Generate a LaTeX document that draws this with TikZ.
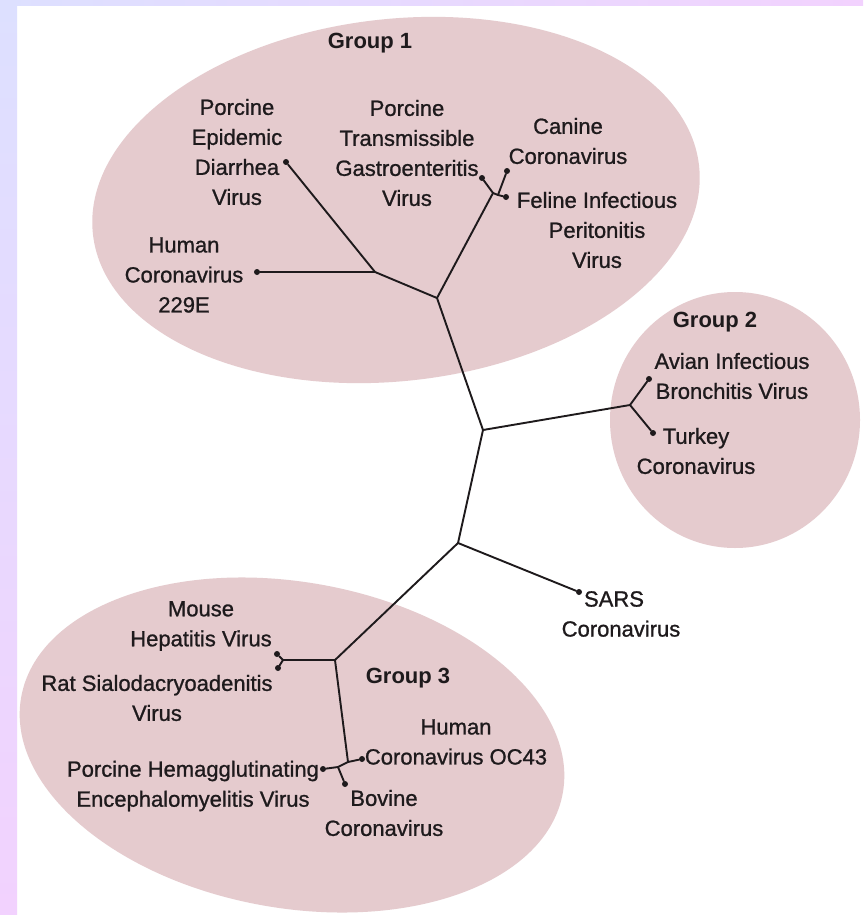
\documentclass[tikz,border=0pt]{standalone}
\usepackage{fontspec}
\setmainfont{Liberation Sans}
\newfontfamily\labfont[FakeBold=1.0]{Liberation Sans}
\definecolor{bgA}{RGB}{221,224,255}
\definecolor{bgB}{RGB}{242,210,254}
\definecolor{grp}{RGB}{229,203,206}
\definecolor{ink}{RGB}{30,26,28}
\begin{document}
\begin{tikzpicture}[x=1pt,y=-1pt,
  lab/.style={align=center,font=\labfont\fontsize{22}{30}\selectfont,text=ink,inner sep=0pt},
  grouplab/.style={font=\fontsize{22}{30}\selectfont\bfseries,text=ink,inner sep=0pt},
  branch/.style={draw=ink,line width=1.9pt,line cap=round,line join=round},
  leaf/.style={circle,fill=ink,inner sep=0pt,minimum size=6pt}]
\useasboundingbox (0,0) rectangle (863,915);
\fill[white] (0,0) rectangle (863,915);
% group areas
\fill[grp, rotate around={6.5:(396,200)}] (396,200) ellipse [x radius=305, y radius=181];
\fill[grp] (735,420) ellipse [x radius=125, y radius=128];
\fill[grp, rotate around={-10:(292,745)}] (292,745) ellipse [x radius=275, y radius=163];
% frame stripes
\shade[left color=bgA,right color=bgB] (0,0) rectangle (863,6);
\shade[top color=bgA,bottom color=bgB] (0,0) rectangle (17,915);
% inner forks
\coordinate (A) at (375,272);
\coordinate (B) at (437,298);
\coordinate (J1) at (493,193);
\coordinate (J1b) at (498,195);
\coordinate (C) at (483,430);
\coordinate (D) at (630,405);
\coordinate (E) at (458,543);
\coordinate (F) at (335,660);
\coordinate (G) at (283,660);
\coordinate (H) at (348,762);
\coordinate (K) at (338,767);
% leaves
\node[leaf] (ped) at (286,162) {};
\node[leaf] (hcov) at (257,272) {};
\node[leaf] (tgev) at (482,178) {};
\node[leaf] (can) at (507,171) {};
\node[leaf] (fip) at (506,197) {};
\node[leaf] (avian) at (649,379) {};
\node[leaf] (turkey) at (653,433) {};
\node[leaf] (sars) at (579,592) {};
\node[leaf] (mhv) at (277,654) {};
\node[leaf] (rsv) at (278,668) {};
\node[leaf] (oc43) at (362,759) {};
\node[leaf] (phev) at (323,769) {};
\node[leaf] (bcov) at (345,784) {};
% branches
\draw[branch] (ped) -- (A) -- (B);
\draw[branch] (hcov) -- (A);
\draw[branch] (B) -- (J1) -- (tgev);
\draw[branch] (J1) -- (J1b) -- (fip);
\draw[branch] (J1b) -- (can);
\draw[branch] (B) -- (C) -- (E);
\draw[branch] (C) -- (D) -- (avian);
\draw[branch] (D) -- (turkey);
\draw[branch] (E) -- (sars);
\draw[branch] (E) -- (F) -- (G) -- (mhv);
\draw[branch] (G) -- (rsv);
\draw[branch] (F) -- (H) -- (oc43);
\draw[branch] (H) -- (K) -- (phev);
\draw[branch] (K) -- (bcov);
% labels
\node[grouplab] (g1) at (370,43) {Group 1};
\node[grouplab] (g2) at (715,322) {Group 2};
\node[grouplab] (g3) at (408,678) {Group 3};
\node[lab] (pedlab) at (237,152) {Porcine\\Epidemic\\Diarrhea\\Virus};
\node[lab] (tgevlab) at (407,153) {Porcine\\Transmissible\\Gastroenteritis\\Virus};
\node[lab] (canlab) at (568,141) {Canine\\Coronavirus};
\node[lab] (fiplab) at (597,230) {Feline Infectious\\Peritonitis\\Virus};
\node[lab] (hcovlab) at (184,275) {Human\\Coronavirus\\229E};
\node[lab] (avlab) at (732,376) {Avian Infectious\\Bronchitis Virus};
\node[lab] (tklab) at (696,451) {Turkey\\Coronavirus};
\node[lab] (sarslab) at (621,614) {SARS\hspace*{14pt}\\Coronavirus};
\node[lab] (mhvlab) at (201,626) {Mouse\\Hepatitis Virus};
\node[lab] (rsvlab) at (157,698) {Rat Sialodacryoadenitis\\Virus};
\node[lab] (oc43lab) at (456,742) {Human\\Coronavirus OC43};
\node[lab] (phevlab) at (193,786) {Porcine Hemagglutinating\\Encephalomyelitis Virus};
\node[lab] (bcovlab) at (384,813) {Bovine\\Coronavirus};
\end{tikzpicture}
\end{document}
